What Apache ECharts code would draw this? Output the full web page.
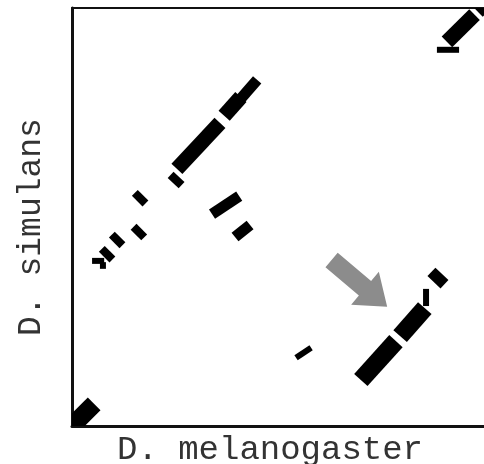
<!DOCTYPE html>
<html lang="en">
<head>
    <meta charset="UTF-8">
    <title>Dot plot</title>
    <script src="https://cdn.jsdelivr.net/npm/echarts@6/dist/echarts.min.js"></script>
    <style>
        html, body { margin: 0; padding: 0; background: #fff; }
        #chart { width: 484px; height: 464px; }
    </style>
</head>
<body>
    <div id="chart"></div>
    <script>
        // axis titles
        var xName = 'D. melanogaster';
        var yName = 'D. simulans';

        // matching segments [x1, y1, x2, y2] in sequence units (0..100 on both axes)
        var heavySegs = [
            [-2, -2, 5.3, 5.3],
            [69.1, 11.0, 77.5, 20.3],
            [78.5, 21.5, 84.4, 28.2]
        ];
        var mainSegs = [
            [89.7, 91.9, 96.3, 98.4],
            [97.0, 99.2, 100.5, 102.6],
            [24.2, 58.1, 25.6, 59.6],
            [25.1, 61.5, 35.4, 72.5],
            [36.4, 74.2, 40.4, 78.7],
            [15.6, 53.8, 17.0, 55.2],
            [15.3, 45.7, 16.7, 47.1],
            [10.1, 43.8, 11.5, 45.2],
            [7.7, 40.4, 9.1, 41.8]
        ];
        var mediumSegs = [
            [39.5, 77.3, 44.3, 82.8],
            [33.5, 50.7, 40.0, 55.0],
            [39.0, 45.2, 42.6, 48.1]
        ];
        var thinSegs = [
            [87.3, 90.0, 92.6, 90.0],
            [4.8, 39.5, 7.7, 39.5],
            [7.4, 39.2, 7.4, 37.6],
            [53.6, 16.3, 57.2, 18.7],
            [84.7, 32.8, 84.7, 28.7]
        ];
        var blobSegs = [
            [86.6, 34.4, 88.5, 36.4]
        ];
        // arrow: tail x, tail y, tip x, tip y
        var arrows = [
            [62.1, 39.7, 75.4, 28.5]
        ];

        function segSeries(data, width) {
            return {
                type: 'custom',
                clip: true,
                data: data,
                encode: { x: [0, 2], y: [1, 3] },
                renderItem: function (params, api) {
                    var a = api.coord([api.value(0), api.value(1)]);
                    var b = api.coord([api.value(2), api.value(3)]);
                    return {
                        type: 'line',
                        shape: { x1: a[0], y1: a[1], x2: b[0], y2: b[1] },
                        style: { stroke: '#000', lineWidth: width, lineCap: 'butt' }
                    };
                }
            };
        }

        var arrowSeries = {
            type: 'custom',
            clip: true,
            data: arrows,
            encode: { x: [0, 2], y: [1, 3] },
            renderItem: function (params, api) {
                var a = api.coord([api.value(0), api.value(1)]);
                var b = api.coord([api.value(2), api.value(3)]);
                var dx = b[0] - a[0], dy = b[1] - a[1];
                var len = Math.sqrt(dx * dx + dy * dy);
                var ux = dx / len, uy = dy / len;
                var nx = -uy, ny = ux;
                var shaftW = 9.5, headW = 21.5, headL = 29;
                var hx = b[0] - ux * headL, hy = b[1] - uy * headL;
                var pts = [
                    [a[0] + nx * shaftW, a[1] + ny * shaftW],
                    [hx + nx * shaftW, hy + ny * shaftW],
                    [hx + nx * headW, hy + ny * headW],
                    [b[0], b[1]],
                    [hx - nx * headW, hy - ny * headW],
                    [hx - nx * shaftW, hy - ny * shaftW],
                    [a[0] - nx * shaftW, a[1] - ny * shaftW]
                ];
                return {
                    type: 'polygon',
                    shape: { points: pts },
                    style: { fill: '#8c8c8c' }
                };
            }
        };

        var chart = echarts.init(document.getElementById('chart'));
        var plainAxis = {
            axisTick: { show: false },
            axisLabel: { show: false },
            splitLine: { show: false }
        };
        var option = {
            animation: false,
            backgroundColor: '#fff',
            grid: {
                left: 72, top: 8, width: 418, height: 418,
                outerBoundsMode: 'none'
            },
            xAxis: [
                Object.assign({
                    type: 'value', min: 0, max: 100, position: 'bottom',
                    name: xName, nameLocation: 'middle', nameGap: 7,
                    nameTextStyle: {
                        fontFamily: 'Liberation Mono', fontSize: 34, color: '#333',
                        padding: [0, 22, 0, 0]
                    },
                    axisLine: { show: true, lineStyle: { color: '#111', width: 3 } }
                }, plainAxis),
                Object.assign({
                    type: 'value', min: 0, max: 100, position: 'top',
                    axisLine: { show: true, lineStyle: { color: '#111', width: 2 } }
                }, plainAxis)
            ],
            yAxis: Object.assign({
                type: 'value', min: 0, max: 100,
                name: yName, nameLocation: 'middle', nameGap: 24,
                nameTextStyle: {
                    fontFamily: 'Liberation Mono', fontSize: 33, color: '#333',
                    padding: [0, 20, 0, 0]
                },
                axisLine: { show: true, lineStyle: { color: '#111', width: 3 } }
            }, plainAxis),
            series: [
                arrowSeries,
                segSeries(heavySegs, 18),
                segSeries(mainSegs, 15),
                segSeries(mediumSegs, 11),
                segSeries(thinSegs, 6),
                segSeries(blobSegs, 18)
            ]
        };
        chart.setOption(option);
    </script>
</body>
</html>
